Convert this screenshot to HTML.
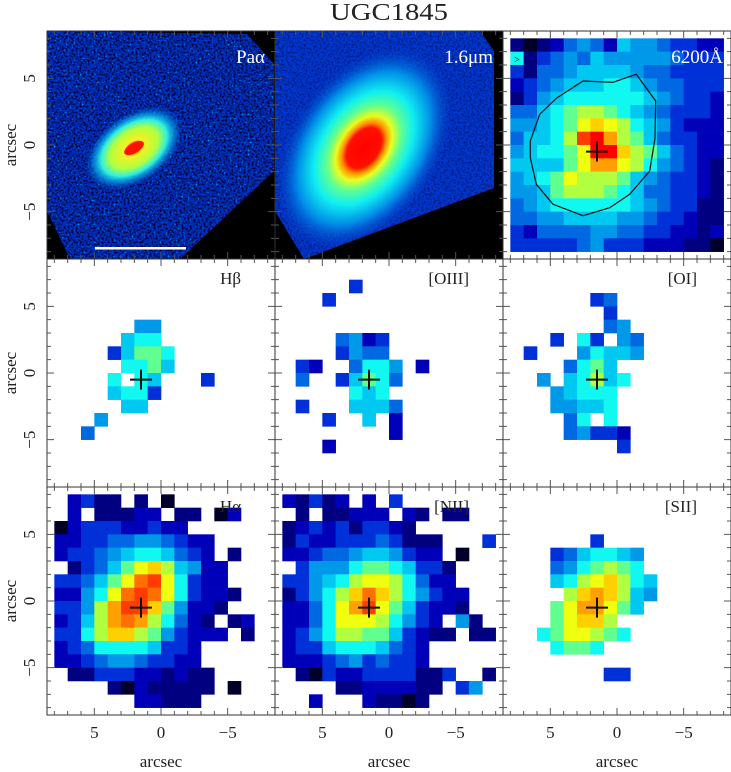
<!DOCTYPE html>
<html><head><meta charset="utf-8"><title>UGC1845</title>
<style>html,body{margin:0;padding:0;background:#fff}svg{display:block}text{font-family:"Liberation Serif",serif}</style>
</head><body>
<svg id="fig" width="731" height="772" viewBox="0 0 731 772" xmlns="http://www.w3.org/2000/svg">
<defs>
<filter id="noise" x="0" y="0" width="100%" height="100%">
<feTurbulence type="fractalNoise" baseFrequency="0.5" numOctaves="2" seed="3"/>
<feColorMatrix type="matrix" values="0 0 0 0 0  0 0 0 0 0  0 0 0 0 0.05  0 0 0 -3.5 2.0"/>
</filter>
<filter id="noise2" x="0" y="0" width="100%" height="100%">
<feTurbulence type="fractalNoise" baseFrequency="0.5" numOctaves="2" seed="7"/>
<feColorMatrix type="matrix" values="0 0 0 0 0  0 0 0 0 0.7  0 0 0 0 1  0 0 0 3.5 -2.2"/>
</filter>
<radialGradient id="hgrad">
<stop offset="0" stop-color="#ff0000"/><stop offset="0.2" stop-color="#ff1000"/><stop offset="0.25" stop-color="#ff9000"/>
<stop offset="0.32" stop-color="#e8ff20"/><stop offset="0.42" stop-color="#60ff90"/><stop offset="0.56" stop-color="#10f0f0"/>
<stop offset="0.75" stop-color="#0090e8"/><stop offset="1" stop-color="#0040d0" stop-opacity="0"/>
</radialGradient>
<radialGradient id="pgrad">
<stop offset="0" stop-color="#ff0000"/><stop offset="0.12" stop-color="#ff3000"/><stop offset="0.2" stop-color="#f8f020"/>
<stop offset="0.5" stop-color="#b0ff40"/><stop offset="0.68" stop-color="#30f0e0"/><stop offset="0.85" stop-color="#00a0f0" stop-opacity="0.6"/><stop offset="1" stop-color="#0060e0" stop-opacity="0"/>
</radialGradient>
<clipPath id="clipPa"><polygon points="47,31 247,34 274,64 274,171 180,259 70,259 47,211"/></clipPath>
<clipPath id="clipH"><polygon points="275,31 480,31 494,51 494,188 304,259 275,211"/></clipPath>
</defs>
<text x="389" y="20" font-size="24" text-anchor="middle" textLength="118" lengthAdjust="spacingAndGlyphs" fill="#222">UGC1845</text>
<g id="layer"></g>
</svg>
<script>
// ---- data: flux levels per spaxel (16x16, rows north→south, cols east→west) ----
const colorLevels = ["#000028","#000080","#0000b8","#0030d8","#0068e0","#0098e8","#00c8f0","#10f8f0","#60ff90","#b0ff40","#f0ff10","#ffd000","#ffa000","#ff7000","#ff3c00","#ff0000"];
const levelCodes = "0123456789ABCDEF";
const contRows = ["1012454265543322","7134546555554333","3144566665443333","2345666776544333","1356777777654332","4467899876543332","55678ABA97653222","46679EFC98643322","56778AFFB9864322","66668ACCA9754321","5678A99986543321","5568999876443321","4567777776543311","4455666655433211","3244445544332212","3333345333222110"];
const hbRows = ["................","................","................","................","......55........",".....677........","....36887.......",".....7786.......","....7.76...3....","....6773........",".....66.........","...5............","..4.............","................","................","................"];
const o3Rows = ["................",".....3..........","...3............","................","................","....4523........","....3544........",".32..4775.2.....",".4..36874.......",".....767........",".3...6664.......","...3..6.2.......","........2.......","...2............","................","................"];
const o1Rows = ["................","................","......34........",".......3........",".......45.......","...3.73.54......",".3...57665......","....4786........","..5.67967.......","...56777........","...55667........","....47.7........","....45332.......","........3.......","................","................"];
const haRows = [".2311.1.0.......",".2.11122.11.02..","0233322322......","223344554322....","233456776432.1..",".13468AB96522...","33468ADEA7322...","2257ADEDA73221..","3359CEEB85221...","2369CDC97421.12.","3379BB9853222.1.","23477776332.....","22345543322.....",".11333221211....","....10211111.0..","......22111....."];
const n2Rows = ["21312.2.3.......",".1.11222.21.11..","1232313321......","132233343111...3","223445665322.0..",".355578876331...","335679AA97422...","13579BDB975322..","2247ACEA863221..","2247AAA97532.51.","2357998863211.11","23367776432.....","22234534332.....",".103223333113..1","....11222211.35.","..2...21101....."];
const s2Rows = ["................","................","................","......3.........","...3467765......","...4578987......","...679AB976.....","....9BCB965.....","...8ACCA86......","...8ABB9........","..78AA987.......","...7887.........","................",".......33.......","................","................"];
// nucleus position (arcsec offsets RA, Dec)
const nucleus = [1.5, -0.5];
// 6200A isophote (arcsec RA, Dec)
const contourRA  = [2.55, 0.3, -1.45, -2.9, -2.85, -2.45, -0.95, 0.55, 2.55, 4.8, 6.05, 6.5, 6.5, 5.8, 4.55];
const contourDec = [4.8, 4.7, 5.3, 3.3, 0.5, -1.95, -3.7, -4.7, -5.3, -4.45, -2.95, -0.95, 0.3, 2.3, 3.5];
const xTickVals = [5, 0, -5];
const xTickLabels = ["5", "0", "\u22125"];
const yTickVals = [5, 0, -5];
const yTickLabels = ["5", "0", "\u22125"];
const panelLabels = [["Pa\u03b1","1.6\u03bcm","6200\u00c5"],["H\u03b2","[OIII]","[OI]"],["H\u03b1","[NII]","[SII]"]];

const NS = "http://www.w3.org/2000/svg";
const layer = document.getElementById("layer");
const colLeft = [47, 275, 503], rowTop = [31, 259, 487], P = 228, half = 114, pxPerArc = 13.333;
function xs(c, a){ return colLeft[c] + half - a * pxPerArc; }
function ys(r, d){ return rowTop[r] + half - d * pxPerArc; }
function mk(tag, attrs, parent){ const e = document.createElementNS(NS, tag); for (const k in attrs) e.setAttribute(k, attrs[k]); (parent||layer).appendChild(e); return e; }

// images row 1
const g1 = mk("g", {});


mk("rect", {x:47, y:31, width:P, height:P, fill:"#000"}, g1);
const c1 = mk("g", {"clip-path":"url(#clipPa)"}, g1);
mk("rect", {x:47, y:31, width:P, height:P, fill:"#0030c0"}, c1);
mk("rect", {x:47, y:31, width:P, height:P, filter:"url(#noise2)"}, c1);
mk("rect", {x:47, y:31, width:P, height:P, filter:"url(#noise)"}, c1);
mk("ellipse", {cx:134, cy:148, rx:54, ry:34, fill:"url(#pgrad)", transform:"rotate(-35 134 148)"}, c1);
mk("ellipse", {cx:134, cy:148, rx:11, ry:5, fill:"#ff1000", transform:"rotate(-30 134 148)"}, c1);
mk("rect", {x:95, y:247, width:91, height:2.5, fill:"#fff"}, g1);

const g2 = mk("g", {});


mk("rect", {x:275, y:31, width:P, height:P, fill:"#000"}, g2);
const c2 = mk("g", {"clip-path":"url(#clipH)"}, g2);
mk("rect", {x:275, y:31, width:P, height:P, fill:"#0038d0"}, c2);
mk("rect", {x:275, y:31, width:P, height:P, filter:"url(#noise)", opacity:"0.5"}, c2);
mk("ellipse", {cx:364, cy:148, rx:112, ry:74, fill:"url(#hgrad)", transform:"rotate(-55 364 148)"}, c2);

// pixel maps
const maps = [[0,2,contRows,"continuum-6200-map"],[1,0,hbRows,"hbeta-map"],[1,1,o3Rows,"oiii-map"],[1,2,o1Rows,"oi-map"],[2,0,haRows,"halpha-map"],[2,1,n2Rows,"nii-map"],[2,2,s2Rows,"sii-map"]];
maps.forEach(([r,c,rows,name])=>{
  const g = mk("g", {});
  
  
  rows.forEach((row, i)=>{
    for (let j=0;j<16;j++){
      const lv = levelCodes.indexOf(row[j]);
      if (lv < 0) continue;
      const x0 = xs(c, 8-j), x1 = xs(c, 7-j), y0 = ys(r, 8-i), y1 = ys(r, 7-i);
      const cell = mk("rect", {x:x0.toFixed(2), y:y0.toFixed(2), width:(x1-x0+0.3).toFixed(2), height:(y1-y0+0.3).toFixed(2), fill:colorLevels[lv]}, g);
      
      
    }
  });
  const nx = xs(c, nucleus[0]), ny = ys(r, nucleus[1]);
  const cr = mk("path", {d:`M${nx-11} ${ny}H${nx+11}M${nx} ${ny-10}V${ny+10}`, stroke:"#111", "stroke-width":"2", fill:"none"}, g);
  
  
});
// contour on 6200A
let pts = contourRA.map((a,i)=> xs(2,a).toFixed(1)+","+ys(0,contourDec[i]).toFixed(1)).join(" ");
const ct = mk("polygon", {points:pts, fill:"none", stroke:"#111", "stroke-width":"1.2"});


const arrow = mk("text", {x:xs(2,7.5), y:ys(0,6.15), "font-size":"10", "text-anchor":"middle", fill:"#000"});
arrow.textContent = ">";



// frames, ticks, labels
for (let r=0;r<3;r++) for (let c=0;c<3;c++){
  const g = mk("g", {});
  
  
  const L = colLeft[c], T = rowTop[r];
  mk("rect", {x:L, y:T, width:P, height:P, fill:"none", stroke:"#333", "stroke-width":"1"}, g);
  let d = "";
  for (let a=-8;a<=8;a++){
    const len = (a%5===0)?7:4;
    const x = xs(c,a), y = ys(r,a);
    d += `M${x} ${T}v${len}M${x} ${T+P}v${-len}M${L} ${y}h${len}M${L+P} ${y}h${-len}`;
  }
  mk("path", {d, stroke:"#555", "stroke-width":"1", fill:"none"}, g);
  const lab = panelLabels[r][c];
  const white = r===0;
  const t = mk("text", {x:L+(white?(c===2?220:218):194), y:T+(white?32:25), "font-size":white?"19":"17", "text-anchor":"end", fill:white?"#fff":"#222"}, g);
  t.textContent = lab;
  
  
}
// x tick labels and titles
for (let c=0;c<3;c++){
  xTickVals.forEach((v,i)=>{
    const t = mk("text", {x:xs(c,v), y:738, "font-size":"17", "text-anchor":"middle", fill:"#222"});
    t.textContent = xTickLabels[i];
    
    
  });
  const t = mk("text", {x:colLeft[c]+half, y:772-5, "font-size":"17", "text-anchor":"middle", fill:"#222"});
  t.textContent = "arcsec";
  
  
}
for (let r=0;r<3;r++){
  yTickVals.forEach((v,i)=>{
    const y = ys(r,v);
    const t = mk("text", {x:0, y:0, "font-size":"17", "text-anchor":"middle", fill:"#222", transform:`translate(35 ${y}) rotate(-90)`});
    t.textContent = yTickLabels[i];
    
    
  });
  const t = mk("text", {x:0, y:0, "font-size":"17", "text-anchor":"middle", fill:"#222", transform:`translate(16 ${rowTop[r]+half}) rotate(-90)`});
  t.textContent = "arcsec";
  
  
}
</script>
</body></html>
